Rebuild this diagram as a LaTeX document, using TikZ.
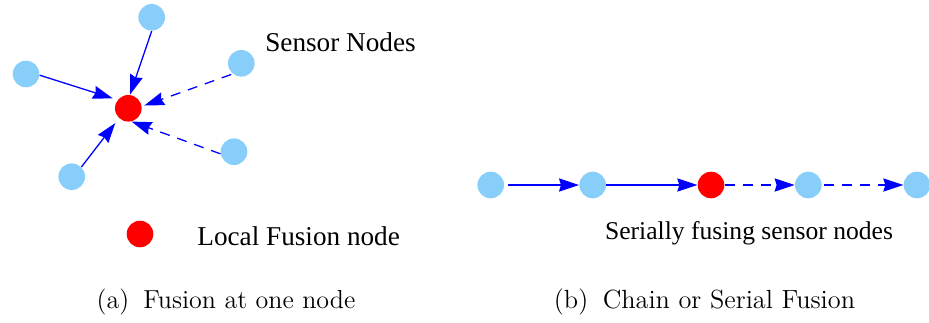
\documentclass[tikz,border=0pt]{standalone}
\usepackage{fontspec}
\newfontfamily\timesf{Liberation Serif}
\usetikzlibrary{arrows.meta}
\definecolor{sensor}{RGB}{135,206,250}
\begin{document}
\begin{tikzpicture}[x=0.5pt,y=-0.5pt,
  sens/.style={circle,fill=sensor,minimum size=13.3pt,inner sep=0pt},
  fus/.style={circle,fill=red,minimum size=13.3pt,inner sep=0pt},
  arr/.style={blue,line width=0.65pt,-{Stealth[length=10pt,width=6.6pt,inset=1pt]}},
  dsh/.style={arr,dash pattern=on 5pt off 4pt},
  lbl/.style={font=\timesf\fontsize{13.6}{16}\selectfont,inner sep=0pt},
  captxt/.style={font=\fontsize{13}{15}\selectfont,inner sep=0pt}]
\useasboundingbox[fill=white] (0,0) rectangle (929,322);
% (a) star
\node[fus] (R) at (128.3,108.3) {};
\node[sens] (T) at (151.7,17.3) {};
\node[sens] (L) at (26,74) {};
\node[sens] (BL) at (71.7,176.7) {};
\node[sens] (UR) at (241.3,63.3) {};
\node[sens] (LR) at (234,151.7) {};
\draw[arr] (T.-90) -- (R.83);
\draw[arr,shorten >=2.5pt] (L.-5) -- (R.142);
\draw[arr,shorten >=3pt] (BL.45) -- (R.-133);
\draw[dsh,shorten >=1.3pt,shorten <=0.8pt] (UR.-129) -- (R.8);
\draw[dsh] (LR.-171) -- (R.-76);
\node[lbl,anchor=base] (sn) at (340.5,51.5) {Sensor Nodes};
\node[fus] (leg) at (140,234) {};
\node[lbl,anchor=base west] (lf) at (197,245.7) {Local Fusion node};
\node[captxt,anchor=base] (ca) at (226,308) {(a)\hskip0.55em Fusion at one node};
% (b) chain
\node[sens] (c1) at (490.7,185) {};
\node[sens] (c2) at (592.7,185) {};
\node[fus]  (c3) at (711,185) {};
\node[sens] (c4) at (808.3,185) {};
\node[sens] (c5) at (917,185) {};
\draw[arr,shorten <=2pt] (c1) -- (c2);
\draw[arr] (c2) -- (c3);
\draw[dsh] (c3) -- (c4);
\draw[dsh,shorten <=1pt] (c4) -- (c5);
\node[lbl,font=\timesf\fontsize{12.8}{15}\selectfont,anchor=base] (sf) at (749,239) {Serially fusing sensor nodes};
\node[captxt,font=\fontsize{13.15}{15}\selectfont,anchor=base] (cb) at (704.5,308) {(b)\hskip0.55em Chain or Serial Fusion};
\end{tikzpicture}
\end{document}
